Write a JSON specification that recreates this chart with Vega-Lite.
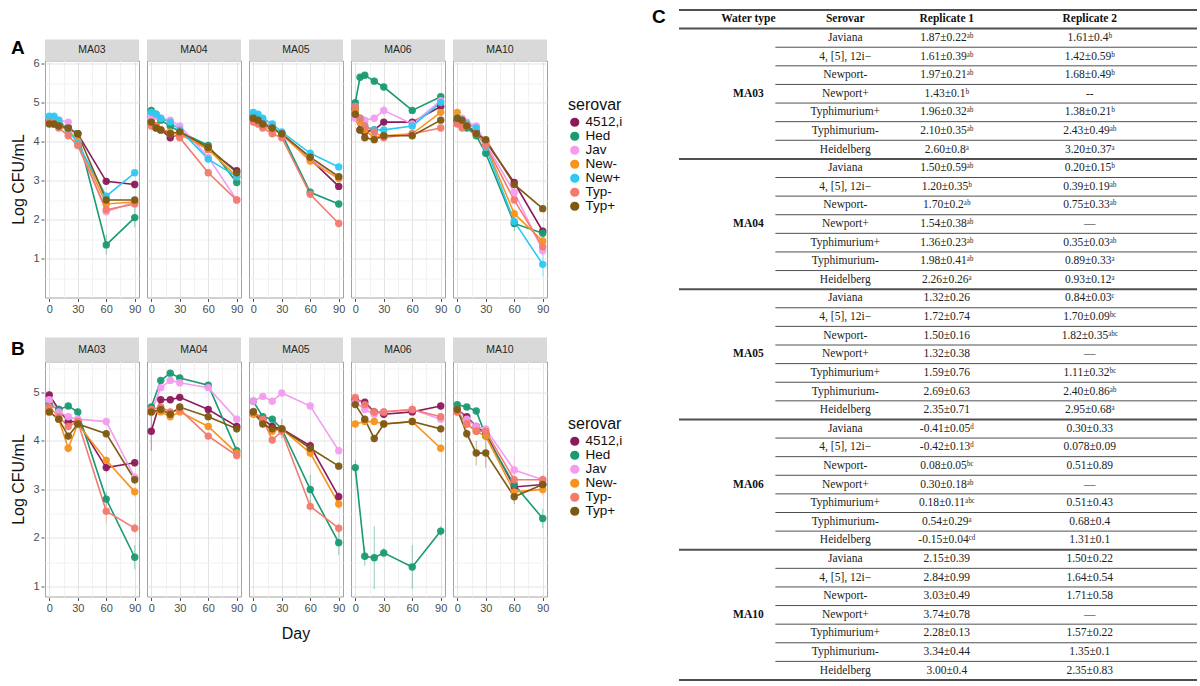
{
  "$schema": "https://vega.github.io/schema/vega-lite/v6.json",
  "background": "white",
  "padding": {"left": 10, "top": 8, "right": 2, "bottom": 2},
  "center": true,
  "spacing": 29,
  "datasets": {
    "survA": [
      {"water":"MA03","serovar":"4512,i","day":0,"logcfu":4.55,"sd":0.06},{"water":"MA03","serovar":"4512,i","day":5,"logcfu":4.5,"sd":0.05},{"water":"MA03","serovar":"4512,i","day":10,"logcfu":4.45,"sd":0.06},{"water":"MA03","serovar":"4512,i","day":20,"logcfu":4.35,"sd":0.07},{"water":"MA03","serovar":"4512,i","day":30,"logcfu":4.2,"sd":0.06},{"water":"MA03","serovar":"4512,i","day":60,"logcfu":2.98,"sd":0.08},{"water":"MA03","serovar":"4512,i","day":90,"logcfu":2.9,"sd":0.1},
      {"water":"MA03","serovar":"Hed","day":0,"logcfu":4.55,"sd":0.05},{"water":"MA03","serovar":"Hed","day":5,"logcfu":4.5,"sd":0.06},{"water":"MA03","serovar":"Hed","day":10,"logcfu":4.45,"sd":0.05},{"water":"MA03","serovar":"Hed","day":20,"logcfu":4.35,"sd":0.06},{"water":"MA03","serovar":"Hed","day":30,"logcfu":4.2,"sd":0.07},{"water":"MA03","serovar":"Hed","day":60,"logcfu":1.35,"sd":0.25},{"water":"MA03","serovar":"Hed","day":90,"logcfu":2.05,"sd":0.25},
      {"water":"MA03","serovar":"Jav","day":0,"logcfu":4.6,"sd":0.06},{"water":"MA03","serovar":"Jav","day":5,"logcfu":4.6,"sd":0.05},{"water":"MA03","serovar":"Jav","day":10,"logcfu":4.55,"sd":0.06},{"water":"MA03","serovar":"Jav","day":20,"logcfu":4.5,"sd":0.06},{"water":"MA03","serovar":"Jav","day":30,"logcfu":4.0,"sd":0.08},{"water":"MA03","serovar":"Jav","day":60,"logcfu":2.2,"sd":0.1},{"water":"MA03","serovar":"Jav","day":90,"logcfu":2.45,"sd":0.08},
      {"water":"MA03","serovar":"New-","day":0,"logcfu":4.5,"sd":0.05},{"water":"MA03","serovar":"New-","day":5,"logcfu":4.45,"sd":0.06},{"water":"MA03","serovar":"New-","day":10,"logcfu":4.4,"sd":0.05},{"water":"MA03","serovar":"New-","day":20,"logcfu":4.3,"sd":0.06},{"water":"MA03","serovar":"New-","day":30,"logcfu":4.0,"sd":0.07},{"water":"MA03","serovar":"New-","day":60,"logcfu":2.4,"sd":0.08},{"water":"MA03","serovar":"New-","day":90,"logcfu":2.45,"sd":0.07},
      {"water":"MA03","serovar":"New+","day":0,"logcfu":4.65,"sd":0.05},{"water":"MA03","serovar":"New+","day":5,"logcfu":4.65,"sd":0.05},{"water":"MA03","serovar":"New+","day":10,"logcfu":4.55,"sd":0.06},{"water":"MA03","serovar":"New+","day":20,"logcfu":4.3,"sd":0.06},{"water":"MA03","serovar":"New+","day":30,"logcfu":3.95,"sd":0.07},{"water":"MA03","serovar":"New+","day":60,"logcfu":2.6,"sd":0.09},{"water":"MA03","serovar":"New+","day":90,"logcfu":3.2,"sd":0.08},
      {"water":"MA03","serovar":"Typ-","day":0,"logcfu":4.5,"sd":0.05},{"water":"MA03","serovar":"Typ-","day":5,"logcfu":4.45,"sd":0.05},{"water":"MA03","serovar":"Typ-","day":10,"logcfu":4.35,"sd":0.06},{"water":"MA03","serovar":"Typ-","day":20,"logcfu":4.15,"sd":0.07},{"water":"MA03","serovar":"Typ-","day":30,"logcfu":3.9,"sd":0.07},{"water":"MA03","serovar":"Typ-","day":60,"logcfu":2.25,"sd":0.12},{"water":"MA03","serovar":"Typ-","day":90,"logcfu":2.4,"sd":0.08},
      {"water":"MA03","serovar":"Typ+","day":0,"logcfu":4.45,"sd":0.05},{"water":"MA03","serovar":"Typ+","day":5,"logcfu":4.45,"sd":0.06},{"water":"MA03","serovar":"Typ+","day":10,"logcfu":4.4,"sd":0.05},{"water":"MA03","serovar":"Typ+","day":20,"logcfu":4.35,"sd":0.06},{"water":"MA03","serovar":"Typ+","day":30,"logcfu":4.2,"sd":0.06},{"water":"MA03","serovar":"Typ+","day":60,"logcfu":2.5,"sd":0.08},{"water":"MA03","serovar":"Typ+","day":90,"logcfu":2.5,"sd":0.07},

      {"water":"MA04","serovar":"4512,i","day":0,"logcfu":4.5,"sd":0.06},{"water":"MA04","serovar":"4512,i","day":5,"logcfu":4.4,"sd":0.05},{"water":"MA04","serovar":"4512,i","day":10,"logcfu":4.3,"sd":0.06},{"water":"MA04","serovar":"4512,i","day":20,"logcfu":4.1,"sd":0.07},{"water":"MA04","serovar":"4512,i","day":30,"logcfu":4.2,"sd":0.06},{"water":"MA04","serovar":"4512,i","day":60,"logcfu":3.8,"sd":0.07},{"water":"MA04","serovar":"4512,i","day":90,"logcfu":3.25,"sd":0.08},
      {"water":"MA04","serovar":"Hed","day":0,"logcfu":4.8,"sd":0.05},{"water":"MA04","serovar":"Hed","day":5,"logcfu":4.7,"sd":0.06},{"water":"MA04","serovar":"Hed","day":10,"logcfu":4.55,"sd":0.05},{"water":"MA04","serovar":"Hed","day":20,"logcfu":4.4,"sd":0.06},{"water":"MA04","serovar":"Hed","day":30,"logcfu":4.25,"sd":0.06},{"water":"MA04","serovar":"Hed","day":60,"logcfu":3.9,"sd":0.07},{"water":"MA04","serovar":"Hed","day":90,"logcfu":2.95,"sd":0.09},
      {"water":"MA04","serovar":"Jav","day":0,"logcfu":4.6,"sd":0.06},{"water":"MA04","serovar":"Jav","day":5,"logcfu":4.65,"sd":0.05},{"water":"MA04","serovar":"Jav","day":10,"logcfu":4.6,"sd":0.06},{"water":"MA04","serovar":"Jav","day":20,"logcfu":4.55,"sd":0.06},{"water":"MA04","serovar":"Jav","day":30,"logcfu":4.4,"sd":0.07},{"water":"MA04","serovar":"Jav","day":60,"logcfu":3.6,"sd":0.09},{"water":"MA04","serovar":"Jav","day":90,"logcfu":2.5,"sd":0.08},
      {"water":"MA04","serovar":"New-","day":0,"logcfu":4.5,"sd":0.05},{"water":"MA04","serovar":"New-","day":5,"logcfu":4.4,"sd":0.06},{"water":"MA04","serovar":"New-","day":10,"logcfu":4.3,"sd":0.05},{"water":"MA04","serovar":"New-","day":20,"logcfu":4.25,"sd":0.06},{"water":"MA04","serovar":"New-","day":30,"logcfu":4.2,"sd":0.06},{"water":"MA04","serovar":"New-","day":60,"logcfu":3.8,"sd":0.07},{"water":"MA04","serovar":"New-","day":90,"logcfu":3.1,"sd":0.08},
      {"water":"MA04","serovar":"New+","day":0,"logcfu":4.75,"sd":0.05},{"water":"MA04","serovar":"New+","day":5,"logcfu":4.7,"sd":0.05},{"water":"MA04","serovar":"New+","day":10,"logcfu":4.6,"sd":0.06},{"water":"MA04","serovar":"New+","day":20,"logcfu":4.5,"sd":0.06},{"water":"MA04","serovar":"New+","day":30,"logcfu":4.3,"sd":0.06},{"water":"MA04","serovar":"New+","day":60,"logcfu":3.55,"sd":0.08},{"water":"MA04","serovar":"New+","day":90,"logcfu":3.1,"sd":0.08},
      {"water":"MA04","serovar":"Typ-","day":0,"logcfu":4.4,"sd":0.05},{"water":"MA04","serovar":"Typ-","day":5,"logcfu":4.35,"sd":0.06},{"water":"MA04","serovar":"Typ-","day":10,"logcfu":4.3,"sd":0.05},{"water":"MA04","serovar":"Typ-","day":20,"logcfu":4.2,"sd":0.06},{"water":"MA04","serovar":"Typ-","day":30,"logcfu":4.1,"sd":0.06},{"water":"MA04","serovar":"Typ-","day":60,"logcfu":3.2,"sd":0.09},{"water":"MA04","serovar":"Typ-","day":90,"logcfu":2.5,"sd":0.08},
      {"water":"MA04","serovar":"Typ+","day":0,"logcfu":4.5,"sd":0.05},{"water":"MA04","serovar":"Typ+","day":5,"logcfu":4.35,"sd":0.06},{"water":"MA04","serovar":"Typ+","day":10,"logcfu":4.3,"sd":0.05},{"water":"MA04","serovar":"Typ+","day":20,"logcfu":4.2,"sd":0.06},{"water":"MA04","serovar":"Typ+","day":30,"logcfu":4.25,"sd":0.06},{"water":"MA04","serovar":"Typ+","day":60,"logcfu":3.85,"sd":0.07},{"water":"MA04","serovar":"Typ+","day":90,"logcfu":3.2,"sd":0.08},

      {"water":"MA05","serovar":"4512,i","day":0,"logcfu":4.6,"sd":0.05},{"water":"MA05","serovar":"4512,i","day":5,"logcfu":4.55,"sd":0.06},{"water":"MA05","serovar":"4512,i","day":10,"logcfu":4.45,"sd":0.05},{"water":"MA05","serovar":"4512,i","day":20,"logcfu":4.35,"sd":0.06},{"water":"MA05","serovar":"4512,i","day":30,"logcfu":4.2,"sd":0.06},{"water":"MA05","serovar":"4512,i","day":60,"logcfu":3.55,"sd":0.08},{"water":"MA05","serovar":"4512,i","day":90,"logcfu":2.85,"sd":0.09},
      {"water":"MA05","serovar":"Hed","day":0,"logcfu":4.65,"sd":0.05},{"water":"MA05","serovar":"Hed","day":5,"logcfu":4.6,"sd":0.05},{"water":"MA05","serovar":"Hed","day":10,"logcfu":4.5,"sd":0.06},{"water":"MA05","serovar":"Hed","day":20,"logcfu":4.35,"sd":0.06},{"water":"MA05","serovar":"Hed","day":30,"logcfu":4.2,"sd":0.07},{"water":"MA05","serovar":"Hed","day":60,"logcfu":2.7,"sd":0.1},{"water":"MA05","serovar":"Hed","day":90,"logcfu":2.4,"sd":0.09},
      {"water":"MA05","serovar":"Jav","day":0,"logcfu":4.6,"sd":0.06},{"water":"MA05","serovar":"Jav","day":5,"logcfu":4.55,"sd":0.05},{"water":"MA05","serovar":"Jav","day":10,"logcfu":4.5,"sd":0.06},{"water":"MA05","serovar":"Jav","day":20,"logcfu":4.4,"sd":0.06},{"water":"MA05","serovar":"Jav","day":30,"logcfu":4.15,"sd":0.07},{"water":"MA05","serovar":"Jav","day":60,"logcfu":3.55,"sd":0.08},{"water":"MA05","serovar":"Jav","day":90,"logcfu":3.1,"sd":0.08},
      {"water":"MA05","serovar":"New-","day":0,"logcfu":4.55,"sd":0.05},{"water":"MA05","serovar":"New-","day":5,"logcfu":4.5,"sd":0.06},{"water":"MA05","serovar":"New-","day":10,"logcfu":4.4,"sd":0.05},{"water":"MA05","serovar":"New-","day":20,"logcfu":4.3,"sd":0.06},{"water":"MA05","serovar":"New-","day":30,"logcfu":4.2,"sd":0.06},{"water":"MA05","serovar":"New-","day":60,"logcfu":3.5,"sd":0.12},{"water":"MA05","serovar":"New-","day":90,"logcfu":3.05,"sd":0.08},
      {"water":"MA05","serovar":"New+","day":0,"logcfu":4.75,"sd":0.05},{"water":"MA05","serovar":"New+","day":5,"logcfu":4.7,"sd":0.05},{"water":"MA05","serovar":"New+","day":10,"logcfu":4.6,"sd":0.06},{"water":"MA05","serovar":"New+","day":20,"logcfu":4.45,"sd":0.06},{"water":"MA05","serovar":"New+","day":30,"logcfu":4.25,"sd":0.06},{"water":"MA05","serovar":"New+","day":60,"logcfu":3.7,"sd":0.07},{"water":"MA05","serovar":"New+","day":90,"logcfu":3.35,"sd":0.08},
      {"water":"MA05","serovar":"Typ-","day":0,"logcfu":4.5,"sd":0.05},{"water":"MA05","serovar":"Typ-","day":5,"logcfu":4.45,"sd":0.06},{"water":"MA05","serovar":"Typ-","day":10,"logcfu":4.35,"sd":0.05},{"water":"MA05","serovar":"Typ-","day":20,"logcfu":4.2,"sd":0.06},{"water":"MA05","serovar":"Typ-","day":30,"logcfu":4.1,"sd":0.06},{"water":"MA05","serovar":"Typ-","day":60,"logcfu":2.65,"sd":0.1},{"water":"MA05","serovar":"Typ-","day":90,"logcfu":1.9,"sd":0.1},
      {"water":"MA05","serovar":"Typ+","day":0,"logcfu":4.6,"sd":0.05},{"water":"MA05","serovar":"Typ+","day":5,"logcfu":4.55,"sd":0.05},{"water":"MA05","serovar":"Typ+","day":10,"logcfu":4.45,"sd":0.06},{"water":"MA05","serovar":"Typ+","day":20,"logcfu":4.35,"sd":0.06},{"water":"MA05","serovar":"Typ+","day":30,"logcfu":4.2,"sd":0.06},{"water":"MA05","serovar":"Typ+","day":60,"logcfu":3.6,"sd":0.07},{"water":"MA05","serovar":"Typ+","day":90,"logcfu":3.1,"sd":0.07},

      {"water":"MA06","serovar":"4512,i","day":0,"logcfu":4.85,"sd":0.08},{"water":"MA06","serovar":"4512,i","day":5,"logcfu":4.3,"sd":0.08},{"water":"MA06","serovar":"4512,i","day":10,"logcfu":4.25,"sd":0.07},{"water":"MA06","serovar":"4512,i","day":20,"logcfu":4.3,"sd":0.1},{"water":"MA06","serovar":"4512,i","day":30,"logcfu":4.5,"sd":0.08},{"water":"MA06","serovar":"4512,i","day":60,"logcfu":4.5,"sd":0.07},{"water":"MA06","serovar":"4512,i","day":90,"logcfu":4.9,"sd":0.07},
      {"water":"MA06","serovar":"Hed","day":0,"logcfu":5.0,"sd":0.08},{"water":"MA06","serovar":"Hed","day":5,"logcfu":5.65,"sd":0.06},{"water":"MA06","serovar":"Hed","day":10,"logcfu":5.7,"sd":0.05},{"water":"MA06","serovar":"Hed","day":20,"logcfu":5.55,"sd":0.06},{"water":"MA06","serovar":"Hed","day":30,"logcfu":5.4,"sd":0.06},{"water":"MA06","serovar":"Hed","day":60,"logcfu":4.8,"sd":0.07},{"water":"MA06","serovar":"Hed","day":90,"logcfu":5.15,"sd":0.07},
      {"water":"MA06","serovar":"Jav","day":0,"logcfu":4.6,"sd":0.08},{"water":"MA06","serovar":"Jav","day":5,"logcfu":4.5,"sd":0.07},{"water":"MA06","serovar":"Jav","day":10,"logcfu":4.55,"sd":0.08},{"water":"MA06","serovar":"Jav","day":20,"logcfu":4.6,"sd":0.1},{"water":"MA06","serovar":"Jav","day":30,"logcfu":4.8,"sd":0.15},{"water":"MA06","serovar":"Jav","day":60,"logcfu":4.45,"sd":0.07},{"water":"MA06","serovar":"Jav","day":90,"logcfu":5.05,"sd":0.07},
      {"water":"MA06","serovar":"New-","day":0,"logcfu":4.8,"sd":0.08},{"water":"MA06","serovar":"New-","day":5,"logcfu":4.5,"sd":0.07},{"water":"MA06","serovar":"New-","day":10,"logcfu":4.3,"sd":0.07},{"water":"MA06","serovar":"New-","day":20,"logcfu":4.1,"sd":0.08},{"water":"MA06","serovar":"New-","day":30,"logcfu":4.15,"sd":0.07},{"water":"MA06","serovar":"New-","day":60,"logcfu":4.2,"sd":0.07},{"water":"MA06","serovar":"New-","day":90,"logcfu":4.75,"sd":0.07},
      {"water":"MA06","serovar":"New+","day":0,"logcfu":4.9,"sd":0.08},{"water":"MA06","serovar":"New+","day":5,"logcfu":4.6,"sd":0.07},{"water":"MA06","serovar":"New+","day":10,"logcfu":4.4,"sd":0.07},{"water":"MA06","serovar":"New+","day":20,"logcfu":4.3,"sd":0.08},{"water":"MA06","serovar":"New+","day":30,"logcfu":4.3,"sd":0.07},{"water":"MA06","serovar":"New+","day":60,"logcfu":4.4,"sd":0.07},{"water":"MA06","serovar":"New+","day":90,"logcfu":5.0,"sd":0.07},
      {"water":"MA06","serovar":"Typ-","day":0,"logcfu":4.9,"sd":0.08},{"water":"MA06","serovar":"Typ-","day":5,"logcfu":4.6,"sd":0.07},{"water":"MA06","serovar":"Typ-","day":10,"logcfu":4.4,"sd":0.08},{"water":"MA06","serovar":"Typ-","day":20,"logcfu":4.25,"sd":0.15},{"water":"MA06","serovar":"Typ-","day":30,"logcfu":4.1,"sd":0.08},{"water":"MA06","serovar":"Typ-","day":60,"logcfu":4.2,"sd":0.07},{"water":"MA06","serovar":"Typ-","day":90,"logcfu":4.35,"sd":0.07},
      {"water":"MA06","serovar":"Typ+","day":0,"logcfu":4.7,"sd":0.08},{"water":"MA06","serovar":"Typ+","day":5,"logcfu":4.3,"sd":0.07},{"water":"MA06","serovar":"Typ+","day":10,"logcfu":4.1,"sd":0.07},{"water":"MA06","serovar":"Typ+","day":20,"logcfu":4.05,"sd":0.1},{"water":"MA06","serovar":"Typ+","day":30,"logcfu":4.15,"sd":0.07},{"water":"MA06","serovar":"Typ+","day":60,"logcfu":4.15,"sd":0.07},{"water":"MA06","serovar":"Typ+","day":90,"logcfu":4.55,"sd":0.07},

      {"water":"MA10","serovar":"4512,i","day":0,"logcfu":4.55,"sd":0.06},{"water":"MA10","serovar":"4512,i","day":5,"logcfu":4.5,"sd":0.05},{"water":"MA10","serovar":"4512,i","day":10,"logcfu":4.4,"sd":0.06},{"water":"MA10","serovar":"4512,i","day":20,"logcfu":4.25,"sd":0.06},{"water":"MA10","serovar":"4512,i","day":30,"logcfu":4.0,"sd":0.07},{"water":"MA10","serovar":"4512,i","day":60,"logcfu":2.95,"sd":0.09},{"water":"MA10","serovar":"4512,i","day":90,"logcfu":1.7,"sd":0.1},
      {"water":"MA10","serovar":"Hed","day":0,"logcfu":4.5,"sd":0.05},{"water":"MA10","serovar":"Hed","day":5,"logcfu":4.45,"sd":0.06},{"water":"MA10","serovar":"Hed","day":10,"logcfu":4.35,"sd":0.06},{"water":"MA10","serovar":"Hed","day":20,"logcfu":4.15,"sd":0.06},{"water":"MA10","serovar":"Hed","day":30,"logcfu":3.7,"sd":0.08},{"water":"MA10","serovar":"Hed","day":60,"logcfu":1.9,"sd":0.2},{"water":"MA10","serovar":"Hed","day":90,"logcfu":1.65,"sd":0.12},
      {"water":"MA10","serovar":"Jav","day":0,"logcfu":4.6,"sd":0.06},{"water":"MA10","serovar":"Jav","day":5,"logcfu":4.6,"sd":0.05},{"water":"MA10","serovar":"Jav","day":10,"logcfu":4.5,"sd":0.06},{"water":"MA10","serovar":"Jav","day":20,"logcfu":4.4,"sd":0.06},{"water":"MA10","serovar":"Jav","day":30,"logcfu":3.95,"sd":0.07},{"water":"MA10","serovar":"Jav","day":60,"logcfu":2.7,"sd":0.2},{"water":"MA10","serovar":"Jav","day":90,"logcfu":1.2,"sd":0.12},
      {"water":"MA10","serovar":"New-","day":0,"logcfu":4.75,"sd":0.06},{"water":"MA10","serovar":"New-","day":5,"logcfu":4.5,"sd":0.05},{"water":"MA10","serovar":"New-","day":10,"logcfu":4.4,"sd":0.06},{"water":"MA10","serovar":"New-","day":20,"logcfu":4.2,"sd":0.06},{"water":"MA10","serovar":"New-","day":30,"logcfu":3.9,"sd":0.07},{"water":"MA10","serovar":"New-","day":60,"logcfu":2.15,"sd":0.12},{"water":"MA10","serovar":"New-","day":90,"logcfu":1.45,"sd":0.1},
      {"water":"MA10","serovar":"New+","day":0,"logcfu":4.6,"sd":0.05},{"water":"MA10","serovar":"New+","day":5,"logcfu":4.55,"sd":0.06},{"water":"MA10","serovar":"New+","day":10,"logcfu":4.45,"sd":0.06},{"water":"MA10","serovar":"New+","day":20,"logcfu":4.35,"sd":0.06},{"water":"MA10","serovar":"New+","day":30,"logcfu":3.85,"sd":0.07},{"water":"MA10","serovar":"New+","day":60,"logcfu":1.95,"sd":0.15},{"water":"MA10","serovar":"New+","day":90,"logcfu":0.85,"sd":0.3},
      {"water":"MA10","serovar":"Typ-","day":0,"logcfu":4.45,"sd":0.05},{"water":"MA10","serovar":"Typ-","day":5,"logcfu":4.35,"sd":0.06},{"water":"MA10","serovar":"Typ-","day":10,"logcfu":4.4,"sd":0.06},{"water":"MA10","serovar":"Typ-","day":20,"logcfu":4.2,"sd":0.06},{"water":"MA10","serovar":"Typ-","day":30,"logcfu":3.9,"sd":0.07},{"water":"MA10","serovar":"Typ-","day":60,"logcfu":2.5,"sd":0.1},{"water":"MA10","serovar":"Typ-","day":90,"logcfu":1.3,"sd":0.1},
      {"water":"MA10","serovar":"Typ+","day":0,"logcfu":4.6,"sd":0.05},{"water":"MA10","serovar":"Typ+","day":5,"logcfu":4.55,"sd":0.06},{"water":"MA10","serovar":"Typ+","day":10,"logcfu":4.4,"sd":0.06},{"water":"MA10","serovar":"Typ+","day":20,"logcfu":4.2,"sd":0.06},{"water":"MA10","serovar":"Typ+","day":30,"logcfu":4.05,"sd":0.07},{"water":"MA10","serovar":"Typ+","day":60,"logcfu":2.9,"sd":0.08},{"water":"MA10","serovar":"Typ+","day":90,"logcfu":2.28,"sd":0.08}
    ],
    "survB": [
      {"water":"MA03","serovar":"4512,i","day":0,"logcfu":4.95,"sd":0.08},{"water":"MA03","serovar":"4512,i","day":10,"logcfu":4.65,"sd":0.07},{"water":"MA03","serovar":"4512,i","day":20,"logcfu":4.4,"sd":0.08},{"water":"MA03","serovar":"4512,i","day":30,"logcfu":4.4,"sd":0.07},{"water":"MA03","serovar":"4512,i","day":60,"logcfu":3.45,"sd":0.1},{"water":"MA03","serovar":"4512,i","day":90,"logcfu":3.55,"sd":0.08},
      {"water":"MA03","serovar":"Hed","day":0,"logcfu":4.75,"sd":0.07},{"water":"MA03","serovar":"Hed","day":10,"logcfu":4.65,"sd":0.07},{"water":"MA03","serovar":"Hed","day":20,"logcfu":4.72,"sd":0.06},{"water":"MA03","serovar":"Hed","day":30,"logcfu":4.6,"sd":0.07},{"water":"MA03","serovar":"Hed","day":60,"logcfu":2.8,"sd":0.15},{"water":"MA03","serovar":"Hed","day":90,"logcfu":1.6,"sd":0.25},
      {"water":"MA03","serovar":"Jav","day":0,"logcfu":4.85,"sd":0.25},{"water":"MA03","serovar":"Jav","day":10,"logcfu":4.6,"sd":0.08},{"water":"MA03","serovar":"Jav","day":20,"logcfu":4.5,"sd":0.08},{"water":"MA03","serovar":"Jav","day":30,"logcfu":4.45,"sd":0.07},{"water":"MA03","serovar":"Jav","day":60,"logcfu":4.4,"sd":0.08},{"water":"MA03","serovar":"Jav","day":90,"logcfu":3.25,"sd":0.1},
      {"water":"MA03","serovar":"New-","day":0,"logcfu":4.6,"sd":0.07},{"water":"MA03","serovar":"New-","day":10,"logcfu":4.45,"sd":0.07},{"water":"MA03","serovar":"New-","day":20,"logcfu":3.85,"sd":0.1},{"water":"MA03","serovar":"New-","day":30,"logcfu":4.35,"sd":0.07},{"water":"MA03","serovar":"New-","day":60,"logcfu":3.6,"sd":0.1},{"water":"MA03","serovar":"New-","day":90,"logcfu":2.95,"sd":0.1},
      {"water":"MA03","serovar":"Typ-","day":0,"logcfu":4.7,"sd":0.07},{"water":"MA03","serovar":"Typ-","day":10,"logcfu":4.5,"sd":0.07},{"water":"MA03","serovar":"Typ-","day":20,"logcfu":4.3,"sd":0.08},{"water":"MA03","serovar":"Typ-","day":30,"logcfu":4.4,"sd":0.07},{"water":"MA03","serovar":"Typ-","day":60,"logcfu":2.55,"sd":0.25},{"water":"MA03","serovar":"Typ-","day":90,"logcfu":2.2,"sd":0.1},
      {"water":"MA03","serovar":"Typ+","day":0,"logcfu":4.6,"sd":0.07},{"water":"MA03","serovar":"Typ+","day":10,"logcfu":4.45,"sd":0.07},{"water":"MA03","serovar":"Typ+","day":20,"logcfu":4.1,"sd":0.08},{"water":"MA03","serovar":"Typ+","day":30,"logcfu":4.35,"sd":0.07},{"water":"MA03","serovar":"Typ+","day":60,"logcfu":4.15,"sd":0.08},{"water":"MA03","serovar":"Typ+","day":90,"logcfu":3.2,"sd":0.09},

      {"water":"MA04","serovar":"4512,i","day":0,"logcfu":4.2,"sd":0.4},{"water":"MA04","serovar":"4512,i","day":10,"logcfu":4.85,"sd":0.07},{"water":"MA04","serovar":"4512,i","day":20,"logcfu":4.85,"sd":0.06},{"water":"MA04","serovar":"4512,i","day":30,"logcfu":4.9,"sd":0.06},{"water":"MA04","serovar":"4512,i","day":60,"logcfu":4.65,"sd":0.07},{"water":"MA04","serovar":"4512,i","day":90,"logcfu":4.3,"sd":0.08},
      {"water":"MA04","serovar":"Hed","day":0,"logcfu":4.7,"sd":0.07},{"water":"MA04","serovar":"Hed","day":10,"logcfu":5.25,"sd":0.06},{"water":"MA04","serovar":"Hed","day":20,"logcfu":5.4,"sd":0.06},{"water":"MA04","serovar":"Hed","day":30,"logcfu":5.3,"sd":0.06},{"water":"MA04","serovar":"Hed","day":60,"logcfu":5.15,"sd":0.07},{"water":"MA04","serovar":"Hed","day":90,"logcfu":3.8,"sd":0.09},
      {"water":"MA04","serovar":"Jav","day":0,"logcfu":4.6,"sd":0.07},{"water":"MA04","serovar":"Jav","day":10,"logcfu":5.1,"sd":0.07},{"water":"MA04","serovar":"Jav","day":20,"logcfu":5.25,"sd":0.06},{"water":"MA04","serovar":"Jav","day":30,"logcfu":5.2,"sd":0.06},{"water":"MA04","serovar":"Jav","day":60,"logcfu":5.1,"sd":0.07},{"water":"MA04","serovar":"Jav","day":90,"logcfu":4.45,"sd":0.08},
      {"water":"MA04","serovar":"New-","day":0,"logcfu":4.6,"sd":0.07},{"water":"MA04","serovar":"New-","day":10,"logcfu":4.6,"sd":0.06},{"water":"MA04","serovar":"New-","day":20,"logcfu":4.5,"sd":0.07},{"water":"MA04","serovar":"New-","day":30,"logcfu":4.6,"sd":0.06},{"water":"MA04","serovar":"New-","day":60,"logcfu":4.3,"sd":0.08},{"water":"MA04","serovar":"New-","day":90,"logcfu":3.75,"sd":0.08},
      {"water":"MA04","serovar":"Typ-","day":0,"logcfu":4.65,"sd":0.07},{"water":"MA04","serovar":"Typ-","day":10,"logcfu":4.7,"sd":0.06},{"water":"MA04","serovar":"Typ-","day":20,"logcfu":4.6,"sd":0.07},{"water":"MA04","serovar":"Typ-","day":30,"logcfu":4.65,"sd":0.06},{"water":"MA04","serovar":"Typ-","day":60,"logcfu":4.1,"sd":0.08},{"water":"MA04","serovar":"Typ-","day":90,"logcfu":3.7,"sd":0.08},
      {"water":"MA04","serovar":"Typ+","day":0,"logcfu":4.6,"sd":0.07},{"water":"MA04","serovar":"Typ+","day":10,"logcfu":4.65,"sd":0.06},{"water":"MA04","serovar":"Typ+","day":20,"logcfu":4.55,"sd":0.07},{"water":"MA04","serovar":"Typ+","day":30,"logcfu":4.7,"sd":0.06},{"water":"MA04","serovar":"Typ+","day":60,"logcfu":4.5,"sd":0.07},{"water":"MA04","serovar":"Typ+","day":90,"logcfu":4.25,"sd":0.08},

      {"water":"MA05","serovar":"4512,i","day":0,"logcfu":4.6,"sd":0.07},{"water":"MA05","serovar":"4512,i","day":10,"logcfu":4.45,"sd":0.07},{"water":"MA05","serovar":"4512,i","day":20,"logcfu":4.3,"sd":0.07},{"water":"MA05","serovar":"4512,i","day":30,"logcfu":4.25,"sd":0.07},{"water":"MA05","serovar":"4512,i","day":60,"logcfu":3.9,"sd":0.1},{"water":"MA05","serovar":"4512,i","day":90,"logcfu":2.85,"sd":0.1},
      {"water":"MA05","serovar":"Hed","day":0,"logcfu":4.82,"sd":0.07},{"water":"MA05","serovar":"Hed","day":10,"logcfu":4.5,"sd":0.07},{"water":"MA05","serovar":"Hed","day":20,"logcfu":4.45,"sd":0.07},{"water":"MA05","serovar":"Hed","day":30,"logcfu":4.25,"sd":0.07},{"water":"MA05","serovar":"Hed","day":60,"logcfu":3.0,"sd":0.3},{"water":"MA05","serovar":"Hed","day":90,"logcfu":1.9,"sd":0.25},
      {"water":"MA05","serovar":"Jav","day":0,"logcfu":4.82,"sd":0.07},{"water":"MA05","serovar":"Jav","day":10,"logcfu":4.92,"sd":0.06},{"water":"MA05","serovar":"Jav","day":20,"logcfu":4.82,"sd":0.06},{"water":"MA05","serovar":"Jav","day":30,"logcfu":4.99,"sd":0.06},{"water":"MA05","serovar":"Jav","day":60,"logcfu":4.72,"sd":0.07},{"water":"MA05","serovar":"Jav","day":90,"logcfu":3.8,"sd":0.08},
      {"water":"MA05","serovar":"New-","day":0,"logcfu":4.55,"sd":0.07},{"water":"MA05","serovar":"New-","day":10,"logcfu":4.4,"sd":0.07},{"water":"MA05","serovar":"New-","day":20,"logcfu":4.2,"sd":0.07},{"water":"MA05","serovar":"New-","day":30,"logcfu":4.25,"sd":0.07},{"water":"MA05","serovar":"New-","day":60,"logcfu":3.75,"sd":0.1},{"water":"MA05","serovar":"New-","day":90,"logcfu":2.7,"sd":0.1},
      {"water":"MA05","serovar":"Typ-","day":0,"logcfu":4.6,"sd":0.07},{"water":"MA05","serovar":"Typ-","day":10,"logcfu":4.45,"sd":0.07},{"water":"MA05","serovar":"Typ-","day":20,"logcfu":4.02,"sd":0.08},{"water":"MA05","serovar":"Typ-","day":30,"logcfu":4.2,"sd":0.07},{"water":"MA05","serovar":"Typ-","day":60,"logcfu":2.65,"sd":0.12},{"water":"MA05","serovar":"Typ-","day":90,"logcfu":2.2,"sd":0.1},
      {"water":"MA05","serovar":"Typ+","day":0,"logcfu":4.6,"sd":0.07},{"water":"MA05","serovar":"Typ+","day":10,"logcfu":4.35,"sd":0.07},{"water":"MA05","serovar":"Typ+","day":20,"logcfu":4.25,"sd":0.07},{"water":"MA05","serovar":"Typ+","day":30,"logcfu":4.25,"sd":0.2},{"water":"MA05","serovar":"Typ+","day":60,"logcfu":3.85,"sd":0.08},{"water":"MA05","serovar":"Typ+","day":90,"logcfu":3.48,"sd":0.08},

      {"water":"MA06","serovar":"4512,i","day":0,"logcfu":4.85,"sd":0.07},{"water":"MA06","serovar":"4512,i","day":10,"logcfu":4.8,"sd":0.07},{"water":"MA06","serovar":"4512,i","day":20,"logcfu":4.6,"sd":0.07},{"water":"MA06","serovar":"4512,i","day":30,"logcfu":4.55,"sd":0.07},{"water":"MA06","serovar":"4512,i","day":60,"logcfu":4.6,"sd":0.07},{"water":"MA06","serovar":"4512,i","day":90,"logcfu":4.72,"sd":0.07},
      {"water":"MA06","serovar":"Hed","day":0,"logcfu":3.45,"sd":0.15},{"water":"MA06","serovar":"Hed","day":10,"logcfu":1.62,"sd":0.2},{"water":"MA06","serovar":"Hed","day":20,"logcfu":1.59,"sd":0.65},{"water":"MA06","serovar":"Hed","day":30,"logcfu":1.69,"sd":0.1},{"water":"MA06","serovar":"Hed","day":60,"logcfu":1.4,"sd":0.45},{"water":"MA06","serovar":"Hed","day":90,"logcfu":2.14,"sd":0.1},
      {"water":"MA06","serovar":"Jav","day":0,"logcfu":4.8,"sd":0.07},{"water":"MA06","serovar":"Jav","day":10,"logcfu":4.65,"sd":0.07},{"water":"MA06","serovar":"Jav","day":20,"logcfu":4.55,"sd":0.07},{"water":"MA06","serovar":"Jav","day":30,"logcfu":4.6,"sd":0.07},{"water":"MA06","serovar":"Jav","day":60,"logcfu":4.65,"sd":0.07},{"water":"MA06","serovar":"Jav","day":90,"logcfu":4.45,"sd":0.07},
      {"water":"MA06","serovar":"New-","day":0,"logcfu":4.35,"sd":0.07},{"water":"MA06","serovar":"New-","day":10,"logcfu":4.4,"sd":0.07},{"water":"MA06","serovar":"New-","day":20,"logcfu":4.4,"sd":0.07},{"water":"MA06","serovar":"New-","day":30,"logcfu":4.35,"sd":0.07},{"water":"MA06","serovar":"New-","day":60,"logcfu":4.4,"sd":0.07},{"water":"MA06","serovar":"New-","day":90,"logcfu":3.85,"sd":0.08},
      {"water":"MA06","serovar":"Typ-","day":0,"logcfu":4.9,"sd":0.07},{"water":"MA06","serovar":"Typ-","day":10,"logcfu":4.75,"sd":0.07},{"water":"MA06","serovar":"Typ-","day":20,"logcfu":4.6,"sd":0.1},{"water":"MA06","serovar":"Typ-","day":30,"logcfu":4.6,"sd":0.07},{"water":"MA06","serovar":"Typ-","day":60,"logcfu":4.65,"sd":0.12},{"water":"MA06","serovar":"Typ-","day":90,"logcfu":4.5,"sd":0.07},
      {"water":"MA06","serovar":"Typ+","day":0,"logcfu":4.75,"sd":0.07},{"water":"MA06","serovar":"Typ+","day":10,"logcfu":4.45,"sd":0.07},{"water":"MA06","serovar":"Typ+","day":20,"logcfu":4.05,"sd":0.08},{"water":"MA06","serovar":"Typ+","day":30,"logcfu":4.35,"sd":0.07},{"water":"MA06","serovar":"Typ+","day":60,"logcfu":4.4,"sd":0.07},{"water":"MA06","serovar":"Typ+","day":90,"logcfu":4.25,"sd":0.07},

      {"water":"MA10","serovar":"4512,i","day":0,"logcfu":4.65,"sd":0.07},{"water":"MA10","serovar":"4512,i","day":10,"logcfu":4.5,"sd":0.07},{"water":"MA10","serovar":"4512,i","day":20,"logcfu":4.3,"sd":0.08},{"water":"MA10","serovar":"4512,i","day":30,"logcfu":4.15,"sd":0.08},{"water":"MA10","serovar":"4512,i","day":60,"logcfu":3.05,"sd":0.1},{"water":"MA10","serovar":"4512,i","day":90,"logcfu":3.1,"sd":0.1},
      {"water":"MA10","serovar":"Hed","day":0,"logcfu":4.75,"sd":0.06},{"water":"MA10","serovar":"Hed","day":10,"logcfu":4.7,"sd":0.06},{"water":"MA10","serovar":"Hed","day":20,"logcfu":4.62,"sd":0.06},{"water":"MA10","serovar":"Hed","day":30,"logcfu":4.1,"sd":0.08},{"water":"MA10","serovar":"Hed","day":60,"logcfu":3.1,"sd":0.1},{"water":"MA10","serovar":"Hed","day":90,"logcfu":2.4,"sd":0.2},
      {"water":"MA10","serovar":"Jav","day":0,"logcfu":4.65,"sd":0.07},{"water":"MA10","serovar":"Jav","day":10,"logcfu":4.45,"sd":0.07},{"water":"MA10","serovar":"Jav","day":20,"logcfu":4.3,"sd":0.08},{"water":"MA10","serovar":"Jav","day":30,"logcfu":4.25,"sd":0.08},{"water":"MA10","serovar":"Jav","day":60,"logcfu":3.4,"sd":0.3},{"water":"MA10","serovar":"Jav","day":90,"logcfu":3.2,"sd":0.1},
      {"water":"MA10","serovar":"New-","day":0,"logcfu":4.6,"sd":0.07},{"water":"MA10","serovar":"New-","day":10,"logcfu":4.35,"sd":0.07},{"water":"MA10","serovar":"New-","day":20,"logcfu":4.2,"sd":0.08},{"water":"MA10","serovar":"New-","day":30,"logcfu":4.1,"sd":0.08},{"water":"MA10","serovar":"New-","day":60,"logcfu":2.95,"sd":0.12},{"water":"MA10","serovar":"New-","day":90,"logcfu":3.0,"sd":0.12},
      {"water":"MA10","serovar":"Typ-","day":0,"logcfu":4.6,"sd":0.07},{"water":"MA10","serovar":"Typ-","day":10,"logcfu":4.35,"sd":0.07},{"water":"MA10","serovar":"Typ-","day":20,"logcfu":4.2,"sd":0.08},{"water":"MA10","serovar":"Typ-","day":30,"logcfu":4.2,"sd":0.08},{"water":"MA10","serovar":"Typ-","day":60,"logcfu":3.2,"sd":0.12},{"water":"MA10","serovar":"Typ-","day":90,"logcfu":3.2,"sd":0.1},
      {"water":"MA10","serovar":"Typ+","day":0,"logcfu":4.65,"sd":0.07},{"water":"MA10","serovar":"Typ+","day":10,"logcfu":4.15,"sd":0.1},{"water":"MA10","serovar":"Typ+","day":20,"logcfu":3.75,"sd":0.25},{"water":"MA10","serovar":"Typ+","day":30,"logcfu":3.75,"sd":0.3},{"water":"MA10","serovar":"Typ+","day":60,"logcfu":2.85,"sd":0.15},{"water":"MA10","serovar":"Typ+","day":90,"logcfu":3.1,"sd":0.1}
    ],
    "decline": [
      {"row":0,"water":"Water type","serovar":"Serovar","rep1":"Replicate 1","rep2":"Replicate 2"},
      {"row":1,"water":"MA03","serovar":"Javiana","rep1":"1.87±0.22ᵃᵇ","rep2":"1.61±0.4ᵇ"},
      {"row":2,"water":"MA03","serovar":"4, [5], 12i−","rep1":"1.61±0.39ᵃᵇ","rep2":"1.42±0.59ᵇ"},
      {"row":3,"water":"MA03","serovar":"Newport-","rep1":"1.97±0.21ᵃᵇ","rep2":"1.68±0.49ᵇ"},
      {"row":4,"water":"MA03","serovar":"Newport+","rep1":"1.43±0.1ᵇ","rep2":"--"},
      {"row":5,"water":"MA03","serovar":"Typhimurium+","rep1":"1.96±0.32ᵃᵇ","rep2":"1.38±0.21ᵇ"},
      {"row":6,"water":"MA03","serovar":"Typhimurium-","rep1":"2.10±0.35ᵃᵇ","rep2":"2.43±0.49ᵃᵇ"},
      {"row":7,"water":"MA03","serovar":"Heidelberg","rep1":"2.60±0.8ᵃ","rep2":"3.20±0.37ᵃ"},
      {"row":8,"water":"MA04","serovar":"Javiana","rep1":"1.50±0.59ᵃᵇ","rep2":"0.20±0.15ᵇ"},
      {"row":9,"water":"MA04","serovar":"4, [5], 12i−","rep1":"1.20±0.35ᵇ","rep2":"0.39±0.19ᵃᵇ"},
      {"row":10,"water":"MA04","serovar":"Newport-","rep1":"1.70±0.2ᵃᵇ","rep2":"0.75±0.33ᵃᵇ"},
      {"row":11,"water":"MA04","serovar":"Newport+","rep1":"1.54±0.38ᵃᵇ","rep2":"—"},
      {"row":12,"water":"MA04","serovar":"Typhimurium+","rep1":"1.36±0.23ᵃᵇ","rep2":"0.35±0.03ᵃᵇ"},
      {"row":13,"water":"MA04","serovar":"Typhimurium-","rep1":"1.98±0.41ᵃᵇ","rep2":"0.89±0.33ᵃ"},
      {"row":14,"water":"MA04","serovar":"Heidelberg","rep1":"2.26±0.26ᵃ","rep2":"0.93±0.12ᵃ"},
      {"row":15,"water":"MA05","serovar":"Javiana","rep1":"1.32±0.26","rep2":"0.84±0.03ᶜ"},
      {"row":16,"water":"MA05","serovar":"4, [5], 12i−","rep1":"1.72±0.74","rep2":"1.70±0.09ᵇᶜ"},
      {"row":17,"water":"MA05","serovar":"Newport-","rep1":"1.50±0.16","rep2":"1.82±0.35ᵃᵇᶜ"},
      {"row":18,"water":"MA05","serovar":"Newport+","rep1":"1.32±0.38","rep2":"—"},
      {"row":19,"water":"MA05","serovar":"Typhimurium+","rep1":"1.59±0.76","rep2":"1.11±0.32ᵇᶜ"},
      {"row":20,"water":"MA05","serovar":"Typhimurium-","rep1":"2.69±0.63","rep2":"2.40±0.86ᵃᵇ"},
      {"row":21,"water":"MA05","serovar":"Heidelberg","rep1":"2.35±0.71","rep2":"2.95±0.68ᵃ"},
      {"row":22,"water":"MA06","serovar":"Javiana","rep1":"-0.41±0.05ᵈ","rep2":"0.30±0.33"},
      {"row":23,"water":"MA06","serovar":"4, [5], 12i−","rep1":"-0.42±0.13ᵈ","rep2":"0.078±0.09"},
      {"row":24,"water":"MA06","serovar":"Newport-","rep1":"0.08±0.05ᵇᶜ","rep2":"0.51±0.89"},
      {"row":25,"water":"MA06","serovar":"Newport+","rep1":"0.30±0.18ᵃᵇ","rep2":"—"},
      {"row":26,"water":"MA06","serovar":"Typhimurium+","rep1":"0.18±0.11ᵃᵇᶜ","rep2":"0.51±0.43"},
      {"row":27,"water":"MA06","serovar":"Typhimurium-","rep1":"0.54±0.29ᵃ","rep2":"0.68±0.4"},
      {"row":28,"water":"MA06","serovar":"Heidelberg","rep1":"-0.15±0.04ᶜᵈ","rep2":"1.31±0.1"},
      {"row":29,"water":"MA10","serovar":"Javiana","rep1":"2.15±0.39","rep2":"1.50±0.22"},
      {"row":30,"water":"MA10","serovar":"4, [5], 12i−","rep1":"2.84±0.99","rep2":"1.64±0.54"},
      {"row":31,"water":"MA10","serovar":"Newport-","rep1":"3.03±0.49","rep2":"1.71±0.58"},
      {"row":32,"water":"MA10","serovar":"Newport+","rep1":"3.74±0.78","rep2":"—"},
      {"row":33,"water":"MA10","serovar":"Typhimurium+","rep1":"2.28±0.13","rep2":"1.57±0.22"},
      {"row":34,"water":"MA10","serovar":"Typhimurium-","rep1":"3.34±0.44","rep2":"1.35±0.1"},
      {"row":35,"water":"MA10","serovar":"Heidelberg","rep1":"3.00±0.4","rep2":"2.35±0.83"}
    ]
  },
  "hconcat": [
    {
      "spacing": 22,
      "resolve": {"scale": {"color": "independent"}},
      "vconcat": [
        {
          "title": {"text": ["", "A"], "lineHeight": 30, "anchor": "start", "frame": "bounds", "fontSize": 19, "fontWeight": "bold", "offset": 0, "dy": 19},
          "data": {"name": "survA"},
          "facet": {"column": {"field": "water", "type": "nominal", "header": {"title": null, "labels": false}}},
          "spacing": 6,
          "spec": {
            "width": 94,
            "height": 237,
            "encoding": {
              "x": {"field": "day", "type": "quantitative", "scale": {"domain": [-4.5, 94.5], "nice": false, "zero": false},
                "axis": {"title": null, "values": [0, 15, 30, 45, 60, 75, 90], "labelExpr": "datum.value % 30 === 0 ? datum.label : ''",
                  "gridColor": {"condition": {"test": "datum.value % 30 !== 0", "value": "#f2f2f2"}, "value": "#e3e3e3"},
                  "tickOpacity": {"condition": {"test": "datum.value % 30 !== 0", "value": 0}, "value": 1}}},
              "y": {"field": "logcfu", "type": "quantitative", "scale": {"domain": [0, 6.08], "nice": false, "zero": false},
                "axis": {"title": "Log CFU/mL", "titlePadding": 6, "values": [0.5, 1, 1.5, 2, 2.5, 3, 3.5, 4, 4.5, 5, 5.5, 6], "labelExpr": "datum.value % 1 === 0 ? '' + datum.value : ''",
                  "gridColor": {"condition": {"test": "datum.value % 1 !== 0", "value": "#f2f2f2"}, "value": "#e3e3e3"},
                  "tickOpacity": {"condition": {"test": "datum.value % 1 !== 0", "value": 0}, "value": 1}}},
              "color": {"field": "serovar", "type": "nominal",
                "scale": {"domain": ["4512,i", "Hed", "Jav", "New-", "New+", "Typ-", "Typ+"], "range": ["#8b1a5a", "#1a9a73", "#f49cf0", "#f7931e", "#2ec9f2", "#f27b6e", "#7d5a12"]},
                "legend": {"title": "serovar", "orient": "none", "legendX": 523, "legendY": 36}}
            },
            "layer": [
              {
                "transform": [{"filter": "datum.serovar === 'Hed' && datum.day === 0"}],
                "mark": {"type": "rect", "clip": false},
                "encoding": {
                  "x": {"datum": -4.5, "type": "quantitative", "scale": {"domain": [-4.5, 94.5], "nice": false, "zero": false}},
                  "x2": {"datum": 94.5},
                  "y": {"datum": 6.08, "type": "quantitative", "scale": {"domain": [0, 6.08], "nice": false, "zero": false}},
                  "y2": {"datum": 6.62},
                  "color": {"value": "#d9d9d9"}
                }
              },
              {
                "transform": [{"filter": "datum.serovar === 'Hed' && datum.day === 0"}],
                "mark": {"type": "text", "clip": false, "fontSize": 10.5, "font": "Liberation Sans"},
                "encoding": {
                  "x": {"datum": 45, "type": "quantitative", "scale": {"domain": [-4.5, 94.5], "nice": false, "zero": false}},
                  "y": {"datum": 6.35, "type": "quantitative", "scale": {"domain": [0, 6.08], "nice": false, "zero": false}},
                  "text": {"field": "water"},
                  "color": {"value": "#262626"}
                }
              },
              {"mark": {"type": "errorbar", "thickness": 1, "opacity": 0.45}, "encoding": {"yError": {"field": "sd"}}},
              {"mark": {"type": "line", "strokeWidth": 1.6}},
              {"mark": {"type": "circle", "size": 55, "opacity": 0.95}}
            ]
          }
        },
        {
          "title": {"text": "B", "anchor": "start", "frame": "bounds", "fontSize": 19, "fontWeight": "bold", "offset": 0, "dy": 22},
          "data": {"name": "survB"},
          "facet": {"column": {"field": "water", "type": "nominal", "header": {"title": "Day", "titleOrient": "bottom", "labels": false, "titleFont": "Liberation Sans", "titleFontSize": 16, "titleFontWeight": "normal", "titleColor": "#111", "titlePadding": 2}}},
          "spacing": 6,
          "spec": {
            "width": 94,
            "height": 235,
            "encoding": {
              "x": {"field": "day", "type": "quantitative", "scale": {"domain": [-4.5, 94.5], "nice": false, "zero": false},
                "axis": {"title": null, "values": [0, 15, 30, 45, 60, 75, 90], "labelExpr": "datum.value % 30 === 0 ? datum.label : ''",
                  "gridColor": {"condition": {"test": "datum.value % 30 !== 0", "value": "#f2f2f2"}, "value": "#e3e3e3"},
                  "tickOpacity": {"condition": {"test": "datum.value % 30 !== 0", "value": 0}, "value": 1}}},
              "y": {"field": "logcfu", "type": "quantitative", "scale": {"domain": [0.79, 5.64], "nice": false, "zero": false},
                "axis": {"title": "Log CFU/mL", "titlePadding": 6, "values": [1, 1.5, 2, 2.5, 3, 3.5, 4, 4.5, 5, 5.5], "labelExpr": "datum.value % 1 === 0 ? '' + datum.value : ''",
                  "gridColor": {"condition": {"test": "datum.value % 1 !== 0", "value": "#f2f2f2"}, "value": "#e3e3e3"},
                  "tickOpacity": {"condition": {"test": "datum.value % 1 !== 0", "value": 0}, "value": 1}}},
              "color": {"field": "serovar", "type": "nominal",
                "scale": {"domain": ["4512,i", "Hed", "Jav", "New-", "Typ-", "Typ+"], "range": ["#8b1a5a", "#1a9a73", "#f49cf0", "#f7931e", "#f27b6e", "#7d5a12"]},
                "legend": {"title": "serovar", "orient": "none", "legendX": 523, "legendY": 54}}
            },
            "layer": [
              {
                "transform": [{"filter": "datum.serovar === 'Hed' && datum.day === 0"}],
                "mark": {"type": "rect", "clip": false},
                "encoding": {
                  "x": {"datum": -4.5, "type": "quantitative", "scale": {"domain": [-4.5, 94.5], "nice": false, "zero": false}},
                  "x2": {"datum": 94.5},
                  "y": {"datum": 5.64, "type": "quantitative", "scale": {"domain": [0.79, 5.64], "nice": false, "zero": false}},
                  "y2": {"datum": 6.135},
                  "color": {"value": "#d9d9d9"}
                }
              },
              {
                "transform": [{"filter": "datum.serovar === 'Hed' && datum.day === 0"}],
                "mark": {"type": "text", "clip": false, "fontSize": 10.5, "font": "Liberation Sans"},
                "encoding": {
                  "x": {"datum": 45, "type": "quantitative", "scale": {"domain": [-4.5, 94.5], "nice": false, "zero": false}},
                  "y": {"datum": 5.887, "type": "quantitative", "scale": {"domain": [0.79, 5.64], "nice": false, "zero": false}},
                  "text": {"field": "water"},
                  "color": {"value": "#262626"}
                }
              },
              {"mark": {"type": "errorbar", "thickness": 1, "opacity": 0.45}, "encoding": {"yError": {"field": "sd"}}},
              {"mark": {"type": "line", "strokeWidth": 1.6}},
              {"mark": {"type": "circle", "size": 55, "opacity": 0.95}}
            ]
          }
        }
      ]
    },
    {
      "title": {"text": ["C", ""], "lineHeight": 665, "anchor": "start", "frame": "group", "fontSize": 19, "fontWeight": "bold", "offset": 0, "dx": -27, "dy": 683},
      "data": {"name": "decline"},
      "width": 518,
      "height": 670,
      "view": {"stroke": null},
      "encoding": {
        "y": {"field": "row", "type": "ordinal", "scale": {"type": "band", "domain": [0,1,2,3,4,5,6,7,8,9,10,11,12,13,14,15,16,17,18,19,20,21,22,23,24,25,26,27,28,29,30,31,32,33,34,35], "paddingInner": 0, "paddingOuter": 0}, "axis": null}
      },
      "layer": [
        {
          "transform": [{"filter": "datum.row > 0 && datum.serovar !== 'Heidelberg'"}],
          "mark": {"type": "rule", "stroke": "#505050", "strokeWidth": 1},
          "encoding": {
            "x": {"datum": 0.186, "type": "quantitative", "scale": {"domain": [0, 1]}, "axis": null},
            "x2": {"datum": 1},
            "y": {"field": "row", "type": "ordinal", "bandPosition": 1}
          }
        },
        {
          "transform": [{"filter": "datum.serovar === 'Heidelberg' || datum.row === 0"}],
          "mark": {"type": "rule", "stroke": "#505050", "strokeWidth": 2},
          "encoding": {
            "x": {"datum": 0, "type": "quantitative", "scale": {"domain": [0, 1]}, "axis": null},
            "x2": {"datum": 1},
            "y": {"field": "row", "type": "ordinal", "bandPosition": 1}
          }
        },
        {
          "transform": [{"filter": "datum.row === 0"}],
          "mark": {"type": "rule", "stroke": "#505050", "strokeWidth": 2},
          "encoding": {
            "x": {"datum": 0, "type": "quantitative", "scale": {"domain": [0, 1]}, "axis": null},
            "x2": {"datum": 1},
            "y": {"field": "row", "type": "ordinal", "bandPosition": 0}
          }
        },
        {
          "transform": [{"filter": "datum.row === 0 || datum.serovar === 'Newport+'"}],
          "mark": {"type": "text", "font": "Liberation Serif", "fontSize": 11.5, "fontWeight": "bold", "color": "#111111"},
          "encoding": {"x": {"datum": 0.134, "type": "quantitative", "scale": {"domain": [0, 1]}, "axis": null}, "text": {"field": "water"}}
        },
        {
          "transform": [{"filter": "datum.row === 0"}],
          "mark": {"type": "text", "font": "Liberation Serif", "fontSize": 11.5, "fontWeight": "bold", "color": "#111111"},
          "encoding": {"x": {"datum": 0.321, "type": "quantitative", "scale": {"domain": [0, 1]}, "axis": null}, "text": {"field": "serovar"}}
        },
        {
          "transform": [{"filter": "datum.row === 0"}],
          "mark": {"type": "text", "font": "Liberation Serif", "fontSize": 11.5, "fontWeight": "bold", "color": "#111111"},
          "encoding": {"x": {"datum": 0.517, "type": "quantitative", "scale": {"domain": [0, 1]}, "axis": null}, "text": {"field": "rep1"}}
        },
        {
          "transform": [{"filter": "datum.row === 0"}],
          "mark": {"type": "text", "font": "Liberation Serif", "fontSize": 11.5, "fontWeight": "bold", "color": "#111111"},
          "encoding": {"x": {"datum": 0.793, "type": "quantitative", "scale": {"domain": [0, 1]}, "axis": null}, "text": {"field": "rep2"}}
        },
        {
          "transform": [{"filter": "datum.row > 0"}],
          "mark": {"type": "text", "font": "Liberation Serif", "fontSize": 11.5, "color": "#222222"},
          "encoding": {"x": {"datum": 0.321, "type": "quantitative", "scale": {"domain": [0, 1]}, "axis": null}, "text": {"field": "serovar"}}
        },
        {
          "transform": [{"filter": "datum.row > 0"}],
          "mark": {"type": "text", "font": "Liberation Serif", "fontSize": 11.5, "color": "#222222"},
          "encoding": {"x": {"datum": 0.517, "type": "quantitative", "scale": {"domain": [0, 1]}, "axis": null}, "text": {"field": "rep1"}}
        },
        {
          "transform": [{"filter": "datum.row > 0"}],
          "mark": {"type": "text", "font": "Liberation Serif", "fontSize": 11.5, "color": "#222222"},
          "encoding": {"x": {"datum": 0.793, "type": "quantitative", "scale": {"domain": [0, 1]}, "axis": null}, "text": {"field": "rep2"}}
        }
      ]
    }
  ],
  "config": {
    "font": "Liberation Sans",
    "view": {"stroke": "#a3a3a3", "strokeWidth": 1},
    "axis": {"labelFont": "Liberation Sans", "labelFontSize": 11, "labelColor": "#4d4d4d", "titleFont": "Liberation Sans", "titleFontSize": 16, "titleFontWeight": "normal", "titleColor": "#111111", "domain": false, "tickColor": "#555555", "tickSize": 3, "labelPadding": 2, "labelOverlap": false, "labelFlush": false},
    "legend": {"titleFont": "Liberation Sans", "titleFontSize": 16, "titleFontWeight": "normal", "titleColor": "#111111", "labelFont": "Liberation Sans", "labelFontSize": 13.5, "labelColor": "#111111", "symbolType": "circle", "symbolSize": 60, "symbolOpacity": 1, "rowPadding": -1.5, "titlePadding": 3},
    "title": {"font": "Liberation Sans", "color": "#000000"}
  }
}
